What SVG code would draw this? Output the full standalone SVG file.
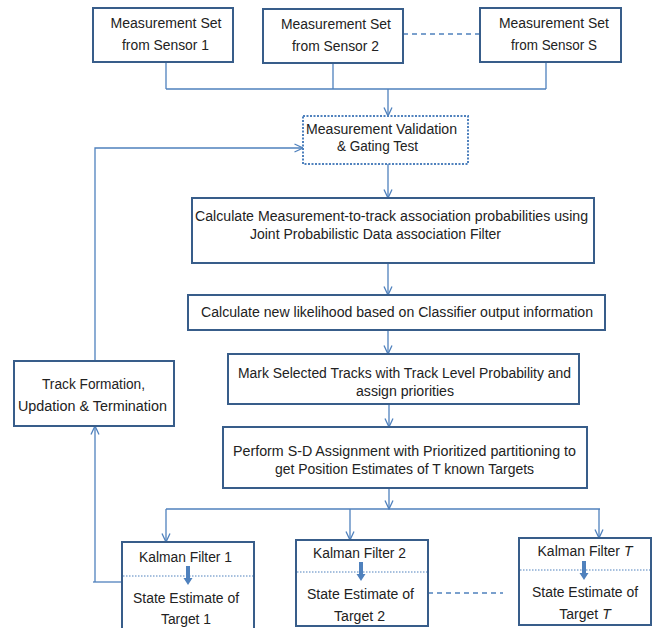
<svg xmlns="http://www.w3.org/2000/svg" width="653" height="628" viewBox="0 0 653 628">
<style>
.box{fill:#ffffff;stroke:#385D8A;stroke-width:2}
.dot{fill:#ffffff;stroke:#4F81BD;stroke-width:2;stroke-dasharray:2 1.5}
.sep{stroke:#4F81BD;stroke-width:1;stroke-dasharray:1.5 1.5;fill:none}
.c{fill:none;stroke:#4F81BD;stroke-width:1.3}
.dash{fill:none;stroke:#4F81BD;stroke-width:1.5;stroke-dasharray:5 4}
.t{font-family:"Liberation Sans",Arial,sans-serif;font-size:14px;fill:#222222;text-anchor:middle}
.thick{fill:#4F81BD}
</style>
<defs>
<marker id="ah" viewBox="0 0 10 10" refX="9.5" refY="5" markerWidth="10" markerHeight="10" markerUnits="userSpaceOnUse" orient="auto">
<path d="M1,1 L9.5,5 L1,9" fill="none" stroke="#4F81BD" stroke-width="1.3"/>
</marker>
</defs>

<g id="connectors">
<path class="c" d="M166,62 V89 M333,63 V89 M546,62 V89 M166,89 H546"/>
<path class="c" d="M388,89 V116" marker-end="url(#ah)"/>
<path class="dash" d="M403,34 H480"/>
<path class="c" d="M388,164 V198" marker-end="url(#ah)"/>
<path class="c" d="M388,263 V295" marker-end="url(#ah)"/>
<path class="c" d="M388,330 V354" marker-end="url(#ah)"/>
<path class="c" d="M389,404 V427" marker-end="url(#ah)"/>
<path class="c" d="M389,488 V509" marker-end="url(#ah)"/>
<path class="c" d="M166,509 H600"/>
<path class="c" d="M166,509 V542" marker-end="url(#ah)"/>
<path class="c" d="M350,509 V540" marker-end="url(#ah)"/>
<path class="c" d="M599,509 V538" marker-end="url(#ah)"/>
<path class="c" d="M122,582 H93"/>
<path class="c" d="M95,582 V426" marker-end="url(#ah)"/>
<path class="c" d="M95,361 V148 H303" marker-end="url(#ah)"/>
<path class="dash" d="M428,593 H503"/>
</g>

<g id="sensor1">
<rect class="box" x="93" y="8" width="140" height="54"/>
<text class="t" x="166" y="28" textLength="111" lengthAdjust="spacingAndGlyphs">Measurement Set</text>
<text class="t" x="165.5" y="50" textLength="87" lengthAdjust="spacingAndGlyphs">from Sensor 1</text>
</g>
<g id="sensor2">
<rect class="box" x="263" y="9" width="140" height="54"/>
<text class="t" x="336" y="29" textLength="110" lengthAdjust="spacingAndGlyphs">Measurement Set</text>
<text class="t" x="335.5" y="51" textLength="87" lengthAdjust="spacingAndGlyphs">from Sensor 2</text>
</g>
<g id="sensorS">
<rect class="box" x="480" y="8" width="141" height="54"/>
<text class="t" x="554" y="28" textLength="110" lengthAdjust="spacingAndGlyphs">Measurement Set</text>
<text class="t" x="554" y="50" textLength="86" lengthAdjust="spacingAndGlyphs">from Sensor S</text>
</g>

<g id="validation">
<rect class="dot" x="303" y="116" width="165" height="48"/>
<text class="t" x="381.5" y="134" textLength="151" lengthAdjust="spacingAndGlyphs">Measurement Validation</text>
<text class="t" x="377.5" y="151" textLength="81" lengthAdjust="spacingAndGlyphs">&amp; Gating Test</text>
</g>

<g id="jpdaf">
<rect class="box" x="192" y="198" width="402" height="65"/>
<text class="t" x="391.5" y="221" textLength="393" lengthAdjust="spacingAndGlyphs">Calculate Measurement-to-track association probabilities using</text>
<text class="t" x="375.5" y="239" textLength="251" lengthAdjust="spacingAndGlyphs">Joint Probabilistic Data association Filter</text>
</g>

<g id="likelihood">
<rect class="box" x="188" y="295" width="417" height="35"/>
<text class="t" x="397" y="317" textLength="392" lengthAdjust="spacingAndGlyphs">Calculate new likelihood based on Classifier output information</text>
</g>

<g id="mark">
<rect class="box" x="228" y="354" width="351" height="50"/>
<text class="t" x="404.5" y="378" textLength="333" lengthAdjust="spacingAndGlyphs">Mark Selected Tracks with Track Level Probability and</text>
<text class="t" x="405" y="396" textLength="98" lengthAdjust="spacingAndGlyphs">assign priorities</text>
</g>

<g id="sdassign">
<rect class="box" x="223" y="427" width="364" height="61"/>
<text class="t" x="404.5" y="456" textLength="343" lengthAdjust="spacingAndGlyphs">Perform S-D Assignment with Prioritized partitioning to</text>
<text class="t" x="404.5" y="474" textLength="259" lengthAdjust="spacingAndGlyphs">get Position Estimates of T known Targets</text>
</g>

<g id="track">
<rect class="box" x="14" y="361" width="160" height="65"/>
<text class="t" x="93.5" y="389" textLength="103" lengthAdjust="spacingAndGlyphs">Track Formation,</text>
<text class="t" x="92.5" y="411" textLength="149" lengthAdjust="spacingAndGlyphs">Updation &amp; Termination</text>
</g>

<g id="kf1">
<rect class="box" x="122" y="542" width="132" height="92"/>
<line class="sep" x1="123" y1="576" x2="253" y2="576"/>
<path class="thick" d="M186,566 H190 V578 H192.5 L188,585 L183.5,578 H186 Z"/>
<text class="t" x="185.5" y="562" textLength="93" lengthAdjust="spacingAndGlyphs">Kalman Filter 1</text>
<text class="t" x="186" y="603" textLength="106" lengthAdjust="spacingAndGlyphs">State Estimate of</text>
<text class="t" x="186" y="624" textLength="50" lengthAdjust="spacingAndGlyphs">Target 1</text>
</g>

<g id="kf2">
<rect class="box" x="296" y="540" width="132" height="86"/>
<line class="sep" x1="297" y1="572" x2="427" y2="572"/>
<path class="thick" d="M359,562 H363 V574 H365.5 L361,581 L356.5,574 H359 Z"/>
<text class="t" x="359.5" y="558" textLength="93" lengthAdjust="spacingAndGlyphs">Kalman Filter 2</text>
<text class="t" x="360.5" y="599" textLength="107" lengthAdjust="spacingAndGlyphs">State Estimate of</text>
<text class="t" x="359.5" y="621" textLength="51" lengthAdjust="spacingAndGlyphs">Target 2</text>
</g>

<g id="kfT">
<rect class="box" x="519" y="538" width="132" height="87"/>
<line class="sep" x1="520" y1="570" x2="650" y2="570"/>
<path class="thick" d="M582,561 H586 V573 H588.5 L584,580 L579.5,573 H582 Z"/>
<text class="t" x="585" y="556">Kalman Filter <tspan font-style="italic">T</tspan></text>
<text class="t" x="585" y="597" textLength="106" lengthAdjust="spacingAndGlyphs">State Estimate of</text>
<text class="t" x="585" y="619">Target <tspan font-style="italic">T</tspan></text>
</g>
</svg>
